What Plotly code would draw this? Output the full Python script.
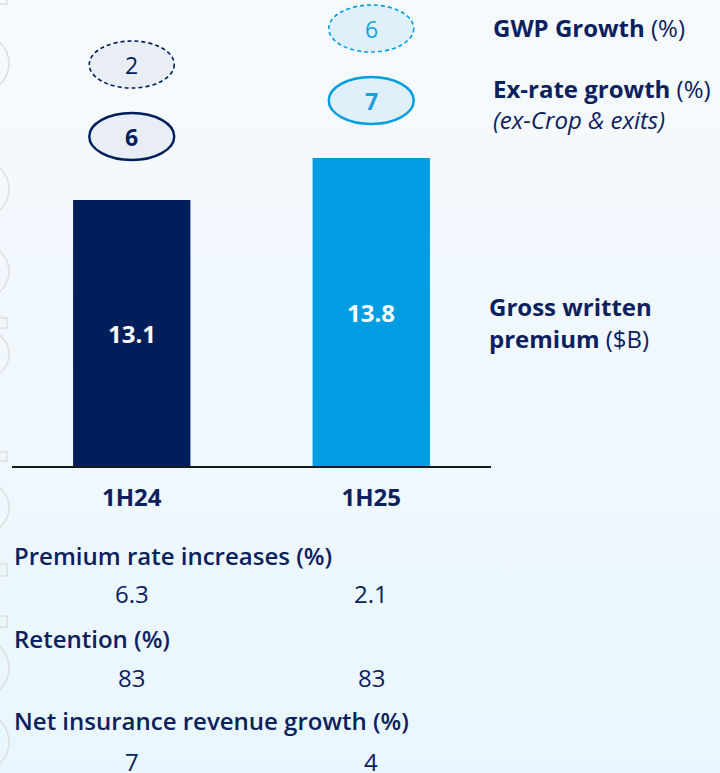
import base64
import plotly.graph_objects as go

# ---------------- data ----------------
categories = ["1H24", "1H25"]
gwp_values = [13.1, 13.8]            # Gross written premium ($B)
gwp_growth = [2, 6]                  # GWP Growth (%)
exrate_growth = [6, 7]               # Ex-rate growth (%) (ex-Crop & exits)
premium_rate_increases = ["6.3", "2.1"]
retention = ["83", "83"]
nir_growth = ["7", "4"]

# ---------------- styling ----------------
NAVY = "#001e5a"
BLUE = "#009de2"
TXT = "#0b215e"
FONT = "Open Sans"
FS = 24
bar_colors = [NAVY, BLUE]
bubble_text_colors = [NAVY, "#1b9fe0"]
bubble_fills = ["#e9eef5", "#dff0fb"]

W, H = 720, 773
L, R, T, B = 12, 229, 0, 307
PW, PH = W - L - R, H - T - B
Y0 = 8.667                      # axis bottom value (chart baseline, not to scale)
YPX = 60.0                      # pixels per unit
Y1 = Y0 + PH / YPX


def px2x(px):
    return (px - L) / PW


def py2y(py):
    return (H - B - py) / PH


fig = go.Figure()

# gradient background
svg = (
    f'<svg xmlns="http://www.w3.org/2000/svg" width="{W}" height="{H}" preserveAspectRatio="none">'
    '<defs><linearGradient id="g" x1="0" y1="0" x2="0" y2="1">'
    '<stop offset="0" stop-color="#f6fafd"/><stop offset="1" stop-color="#e9f6fd"/>'
    '</linearGradient></defs><rect width="100%" height="100%" fill="url(#g)"/></svg>'
)
src = "data:image/svg+xml;base64," + base64.b64encode(svg.encode()).decode()
images = [dict(source=src, xref="paper", yref="paper", x=px2x(0), y=py2y(0),
               sizex=W / PW, sizey=H / PH, xanchor="left", yanchor="top",
               sizing="stretch", layer="below")]

fig.add_trace(go.Bar(
    x=categories, y=gwp_values, width=0.49,
    marker=dict(color=bar_colors, line=dict(width=0)),
    hoverinfo="skip",
))

shapes = []
annotations = []

# value labels centred in the visible part of each bar
for cat, v in zip(categories, gwp_values):
    annotations.append(dict(x=cat, y=(Y0 + v) / 2, xref="x", yref="y",
                            text=f"<b>{v:.1f}</b>", showarrow=False,
                            font=dict(family=FONT, size=FS, color="white")))

# faint decorative outlines at the left edge
deco_circles = [(35, 92), (160, 218), (245, 298), (330, 378), (482, 533), (638, 698), (712, 772)]
for a, b in deco_circles:
    shapes.append(dict(type="circle", xref="paper", yref="paper", layer="below",
                       x0=px2x(9 - (b - a)), x1=px2x(9), y0=py2y(b), y1=py2y(a),
                       line=dict(color="#dedede", width=1.5), fillcolor="rgba(0,0,0,0)"))
deco_squares = [(-5, 4), (318, 328), (452, 461), (564, 576), (616, 627)]
for a, b in deco_squares:
    shapes.append(dict(type="rect", xref="paper", yref="paper", layer="below",
                       x0=px2x(-4), x1=px2x(7), y0=py2y(b), y1=py2y(a),
                       line=dict(color="#dedede", width=1.5), fillcolor="rgba(0,0,0,0)"))

# growth bubbles above the bars (pixel offsets above bar tops)
solid_off = [63.5, 57.5]
dash_off = [135.5, 129.5]
EW, EH = 85, 47
for i, cat in enumerate(categories):
    for off, val, dash, bold in ((dash_off[i], gwp_growth[i], "4px,3px", False),
                                 (solid_off[i], exrate_growth[i], "solid", True)):
        shapes.append(dict(type="circle", xref="x", yref="y",
                           xsizemode="pixel", ysizemode="pixel",
                           xanchor=cat, yanchor=gwp_values[i],
                           x0=-EW / 2, x1=EW / 2, y0=off - EH / 2, y1=off + EH / 2,
                           fillcolor=bubble_fills[i],
                           line=dict(color=bar_colors[i], width=1.6 if not bold else 2.4,
                                     dash=dash)))
        annotations.append(dict(x=cat, y=gwp_values[i], xref="x", yref="y", yshift=off,
                                text=f"<b>{val}</b>" if bold else str(val), showarrow=False,
                                font=dict(family=FONT, size=23, color=bubble_text_colors[i])))

# right-side legend texts
right = [
    (491, 28, "<b>GWP Growth</b> (%)"),
    (491, 88, "<b>Ex-rate growth</b> (%)"),
    (491, 119, "<i>(ex-Crop & exits)</i>"),
    (487, 306, "<b>Gross written</b>"),
    (487, 338, "<b>premium</b> ($B)"),
]
for px, py, txt in right:
    annotations.append(dict(xref="paper", yref="paper", x=px2x(px), y=py2y(py), text=txt,
                            xanchor="left", yanchor="middle", showarrow=False,
                            font=dict(family=FONT, size=FS, color=TXT)))

# metrics table below the chart
table = [
    ("Premium rate increases (%)", premium_rate_increases, 555, 593),
    ("Retention (%)", retention, 638, 677),
    ("Net insurance revenue growth (%)", nir_growth, 721, 761),
]
for label, vals, ly, vy in table:
    annotations.append(dict(xref="paper", yref="paper", x=px2x(12), y=py2y(ly),
                            text=label, xanchor="left", yanchor="middle",
                            showarrow=False,
                            font=dict(family=FONT, size=FS, color=TXT, weight=600)))
    for cat, v in zip(categories, vals):
        annotations.append(dict(xref="x", yref="paper", x=cat, y=py2y(vy), text=v,
                                xanchor="center", yanchor="middle", showarrow=False,
                                font=dict(family=FONT, size=FS, color=TXT)))

fig.update_layout(
    width=W, height=H,
    margin=dict(l=L, r=R, t=T, b=B, pad=0),
    paper_bgcolor="#eff8fd", plot_bgcolor="rgba(0,0,0,0)",
    showlegend=False,
    images=images, shapes=shapes, annotations=annotations,
    xaxis=dict(type="category", range=[-0.5, 1.5], showgrid=False, zeroline=False,
               showline=True, linecolor="#1a1a1a", linewidth=2,
               tickvals=categories, ticktext=[f"<b>{c}</b>" for c in categories],
               ticks="", ticklabelstandoff=9,
               tickfont=dict(family=FONT, size=FS, color=TXT), fixedrange=True),
    yaxis=dict(range=[Y0, Y1], visible=False, fixedrange=True),
)

fig.write_html("out.html", config={"displayModeBar": False},
               post_script="document.body.style.margin='0';")
